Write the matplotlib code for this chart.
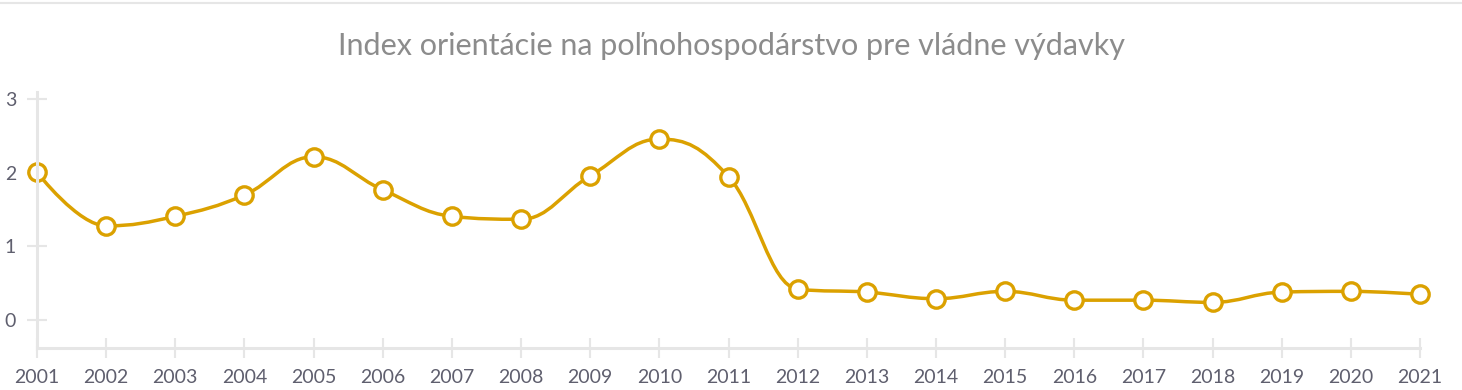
import matplotlib
matplotlib.use("Agg")
import matplotlib.pyplot as plt
import numpy as np
from matplotlib.path import Path
from matplotlib.patches import PathPatch
from matplotlib.lines import Line2D

years = list(range(2001, 2022))
values = [2.01, 1.28, 1.41, 1.70, 2.22, 1.77, 1.41, 1.37, 1.96, 2.46, 1.95,
          0.42, 0.38, 0.29, 0.39, 0.27, 0.27, 0.24, 0.38, 0.39, 0.35]
y_ticks = [0, 1, 2, 3]
title = "Index orientácie na poľnohospodárstvo pre vládne výdavky"

color = '#dba100'
grid_color = '#e6e6e6'
label_color = '#5f5f6e'

plt.rcParams['font.family'] = ['Lato', 'DejaVu Sans']


def spline_path(xs, ys, smoothing=1.5):
    # highcharts-like spline: bezier control points for each point
    n = len(xs)
    denom = smoothing + 1
    left = [(xs[i], ys[i]) for i in range(n)]
    right = [(xs[i], ys[i]) for i in range(n)]
    for i in range(1, n - 1):
        lx = (smoothing * xs[i] + xs[i - 1]) / denom
        ly = (smoothing * ys[i] + ys[i - 1]) / denom
        rx = (smoothing * xs[i] + xs[i + 1]) / denom
        ry = (smoothing * ys[i] + ys[i + 1]) / denom
        if rx != lx:
            corr = (ry - ly) * (rx - xs[i]) / (rx - lx) + ys[i] - ry
            ly += corr
            ry += corr
        if ly > ys[i - 1] and ly > ys[i]:
            ly = max(ys[i - 1], ys[i])
            ry = 2 * ys[i] - ly
        elif ly < ys[i - 1] and ly < ys[i]:
            ly = min(ys[i - 1], ys[i])
            ry = 2 * ys[i] - ly
        if ry > ys[i + 1] and ry > ys[i]:
            ry = max(ys[i + 1], ys[i])
            ly = 2 * ys[i] - ry
        elif ry < ys[i + 1] and ry < ys[i]:
            ry = min(ys[i + 1], ys[i])
            ly = 2 * ys[i] - ry
        left[i] = (lx, ly)
        right[i] = (rx, ry)
    verts = [(xs[0], ys[0])]
    codes = [Path.MOVETO]
    for i in range(1, n):
        verts += [right[i - 1], left[i], (xs[i], ys[i])]
        codes += [Path.CURVE4] * 3
    return Path(verts, codes)


fig = plt.figure(figsize=(14.62, 3.9), dpi=100)
ax = fig.add_axes([37 / 1462, 42 / 390, (1420 - 37) / 1462, (348 - 92) / 390])

ax.add_patch(PathPatch(spline_path(years, values), facecolor='none', edgecolor=color,
                       lw=2.5, zorder=3, capstyle='round', joinstyle='round'))
ax.plot(years, values, linestyle='none', marker='o', markersize=12.5,
        markerfacecolor='white', markeredgecolor=color, markeredgewidth=2.4,
        zorder=4, clip_on=False)

ax.set_xlim(2001, 2021)
ax.set_ylim(-0.38, 3.1)
ax.set_xticks(years)
ax.set_yticks(y_ticks)

for s in ['top', 'right']:
    ax.spines[s].set_visible(False)
for s in ['left', 'bottom']:
    ax.spines[s].set_color(grid_color)
    ax.spines[s].set_linewidth(2.2)
    ax.spines[s].set_zorder(5)

ax.tick_params(axis='both', direction='inout', color=grid_color, width=1.5,
               labelsize=14, labelcolor=label_color)
ax.tick_params(axis='x', length=14, pad=8)
ax.tick_params(axis='y', length=14, pad=8)

fig.text(0.5, 1 - 46 / 390, title, ha='center', va='center', fontsize=22,
         color='#8c8c8c')
fig.add_artist(Line2D([0, 1], [1 - 3 / 390, 1 - 3 / 390], color=grid_color, lw=1.5))

fig.savefig('out.png', dpi=100)
